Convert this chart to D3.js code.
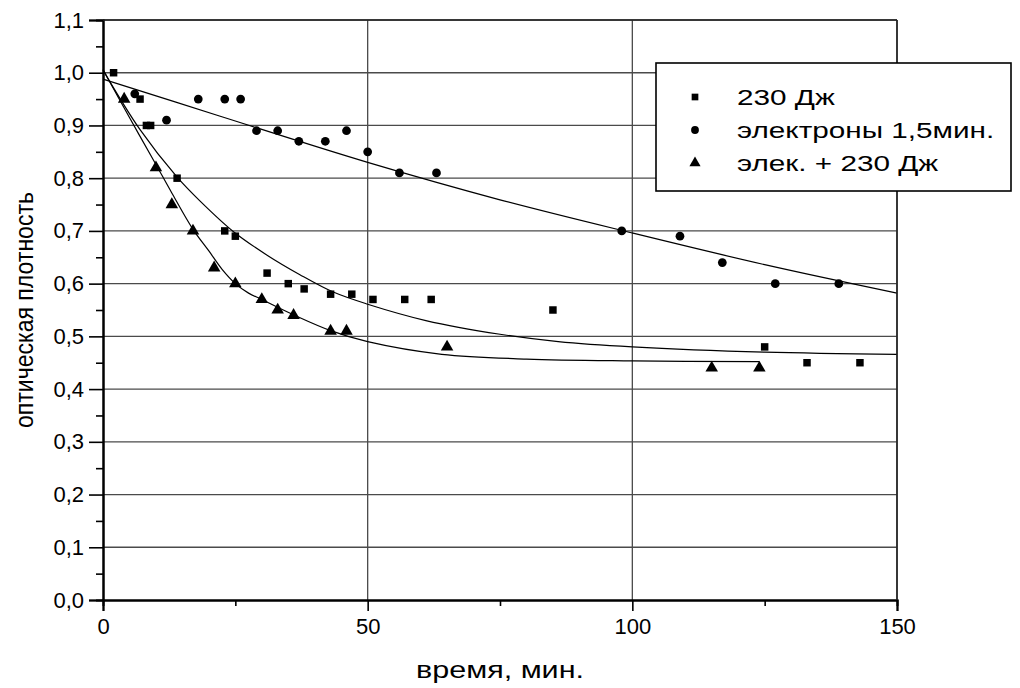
<!doctype html>
<html lang="ru">
    <head>
        <meta charset="utf-8">
        <title>оптическая плотность</title>
        <script type="text/javascript" src="https://cdnjs.cloudflare.com/ajax/libs/d3/7.8.5/d3.min.js"></script>
        <style>
            body { margin: 0; background: #fff; }
            text { font-family: "Liberation Sans", Arial, sans-serif; fill: #000; }
        </style>
    </head>
    <body>
        <script type="text/javascript">
            var svgW = 1020, svgH = 688;
            var margin = {top: 20, right: 123, bottom: 88, left: 103};

            // measured points: [time, optical density]
            var dzh230 = [
                [2, 1.00], [7, 0.95], [8.2, 0.90], [9, 0.90], [14, 0.80],
                [23, 0.70], [25, 0.69], [31, 0.62], [35, 0.60], [38, 0.59],
                [43, 0.58], [47, 0.58], [51, 0.57], [57, 0.57], [62, 0.57],
                [85, 0.55], [125, 0.48], [133, 0.45], [143, 0.45]
            ];
            var electrons = [
                [6, 0.96], [12, 0.91], [18, 0.95], [23, 0.95], [26, 0.95],
                [29, 0.89], [33, 0.89], [37, 0.87], [42, 0.87], [46, 0.89],
                [50, 0.85], [56, 0.81], [63, 0.81], [98, 0.70], [109, 0.69],
                [117, 0.64], [127, 0.60], [139, 0.60]
            ];
            var elecDzh = [
                [4, 0.95], [10, 0.82], [13, 0.75], [17, 0.70], [21, 0.63],
                [25, 0.60], [30, 0.57], [33, 0.55], [36, 0.54], [43, 0.51],
                [46, 0.51], [65, 0.48], [115, 0.44], [124, 0.44]
            ];

            // fitted curves
            var fitDzh230 = [
                [0, 1.005], [7, 0.892], [14, 0.802], [18.3, 0.757], [24.6, 0.699],
                [31, 0.654], [37.2, 0.617], [43.5, 0.584], [50, 0.561], [61, 0.530],
                [75, 0.504], [86, 0.490], [100, 0.480], [125, 0.470], [150, 0.466]
            ];
            var fitElectrons = [
                [0, 0.988], [22, 0.918], [50, 0.830], [75, 0.759],
                [100, 0.696], [125, 0.636], [150, 0.582]
            ];
            var fitElecDzh = [
                [0, 1.006], [5, 0.915], [10, 0.826], [13, 0.772], [17, 0.703],
                [20, 0.662], [22.5, 0.627], [25, 0.600], [27.5, 0.582], [30, 0.570],
                [36, 0.541], [43, 0.511], [50, 0.490], [64, 0.466], [80, 0.457],
                [100, 0.4535], [124, 0.452]
            ];

            var xTicks = [0, 50, 100, 150];
            var xMinor = [25, 75, 125];
            var yTicks = d3.range(0, 12).map(d => d / 10);
            var yMinor = d3.range(0, 11).map(d => d / 10 + 0.05);

            var legendLabels = ["230 Дж", "электроны 1,5мин.", "элек. + 230 Дж"];
            var symbols = [d3.symbolSquare, d3.symbolCircle, d3.symbolTriangle];
            var symbolSizes = [56, 60, 68];

            var x0 = margin.left, x1 = svgW - margin.right;
            var y0 = svgH - margin.bottom, y1 = margin.top;

            var xScale = d3.scaleLinear()
                           .domain([0, 150])
                           .range([x0, x1]);
            var yScale = d3.scaleLinear()
                           .domain([0, 1.1])
                           .range([y0, y1]);

            var comma = d => d3.format(".1f")(d).replace(".", ",");

            var svg = d3.select("body")
                        .append("svg")
                        .attr("width", svgW)
                        .attr("height", svgH);

            // grid
            svg.append("g")
               .selectAll("line")
               .data(yTicks.slice(1))
               .enter()
               .append("line")
               .attr("x1", x0).attr("x2", x1)
               .attr("y1", d => yScale(d)).attr("y2", d => yScale(d))
               .attr("stroke", "#4a4a4a")
               .attr("stroke-width", 1.3);

            svg.append("g")
               .selectAll("line")
               .data(xTicks.slice(1))
               .enter()
               .append("line")
               .attr("x1", d => xScale(d)).attr("x2", d => xScale(d))
               .attr("y1", y0).attr("y2", y1)
               .attr("stroke", "#4a4a4a")
               .attr("stroke-width", 1.3);

            // axes
            var xAxis = d3.axisBottom(xScale)
                          .tickValues(xTicks)
                          .tickSize(11)
                          .tickPadding(7)
                          .tickFormat(d3.format("d"));
            var xAxisMinor = d3.axisBottom(xScale)
                               .tickValues(xMinor)
                               .tickSize(6)
                               .tickFormat("");
            var yAxis = d3.axisLeft(yScale)
                          .tickValues(yTicks)
                          .tickSize(14)
                          .tickPadding(5)
                          .tickFormat(comma);
            var yAxisMinor = d3.axisLeft(yScale)
                               .tickValues(yMinor)
                               .tickSize(7)
                               .tickFormat("");

            [xAxis, xAxisMinor].forEach(function(ax) {
                svg.append("g")
                   .attr("class", "axis")
                   .attr("transform", "translate(0," + y0 + ")")
                   .call(ax);
            });
            [yAxis, yAxisMinor].forEach(function(ax) {
                svg.append("g")
                   .attr("class", "axis")
                   .attr("transform", "translate(" + x0 + ",0)")
                   .call(ax);
            });

            svg.selectAll(".axis path").attr("stroke", "#000").attr("stroke-width", 2);
            svg.selectAll(".axis line").attr("stroke", "#000").attr("stroke-width", 1.6);
            svg.selectAll(".axis text")
               .attr("font-size", 22)
               .attr("fill", "#000");

            // fit curves
            var line = d3.line()
                         .x(d => xScale(d[0]))
                         .y(d => yScale(d[1]))
                         .curve(d3.curveCatmullRom.alpha(0.5));

            [fitDzh230, fitElectrons, fitElecDzh].forEach(function(fit) {
                svg.append("path")
                   .attr("d", line(fit))
                   .attr("fill", "none")
                   .attr("stroke", "#000")
                   .attr("stroke-width", 1.2);
            });

            // points
            [dzh230, electrons, elecDzh].forEach(function(series, i) {
                svg.append("g")
                   .selectAll("path")
                   .data(series)
                   .enter()
                   .append("path")
                   .attr("d", d3.symbol().type(symbols[i]).size(symbolSizes[i]))
                   .attr("transform", d => "translate(" + xScale(d[0]) + "," + yScale(d[1]) + ")")
                   .attr("fill", "#000");
            });

            // frame: right and top border
            svg.append("line")
               .attr("x1", x1).attr("x2", x1)
               .attr("y1", y0).attr("y2", y1)
               .attr("stroke", "#222")
               .attr("stroke-width", 1.6);
            svg.append("line")
               .attr("x1", x0).attr("x2", x1)
               .attr("y1", y1).attr("y2", y1)
               .attr("stroke", "#222")
               .attr("stroke-width", 1.4);

            // axis titles
            svg.append("text")
               .attr("x", (x0 + x1) / 2)
               .attr("y", 678)
               .attr("text-anchor", "middle")
               .attr("font-size", 24)
               .attr("textLength", 168)
               .attr("lengthAdjust", "spacingAndGlyphs")
               .text("время, мин.");

            svg.append("text")
               .attr("transform", "translate(33," + 310 + ") rotate(-90)")
               .attr("text-anchor", "middle")
               .attr("font-size", 25)
               .attr("textLength", 236)
               .attr("lengthAdjust", "spacingAndGlyphs")
               .text("оптическая плотность");

            // legend
            var legend = svg.append("g")
                            .attr("transform", "translate(656,63)");
            legend.append("rect")
                  .attr("width", 355)
                  .attr("height", 128)
                  .attr("fill", "#fff")
                  .attr("stroke", "#000")
                  .attr("stroke-width", 1.6);

            legendLabels.forEach(function(label, i) {
                var cy = 34 + i * 33;
                legend.append("path")
                      .attr("d", d3.symbol().type(symbols[i]).size(symbolSizes[i] * 0.8))
                      .attr("transform", "translate(39," + cy + ")")
                      .attr("fill", "#000");
                legend.append("text")
                      .attr("transform", "translate(81," + (cy + 8) + ") scale(1.35,1)")
                      .attr("font-size", 22)
                      .text(label);
            });
        </script>
    </body>
</html>
